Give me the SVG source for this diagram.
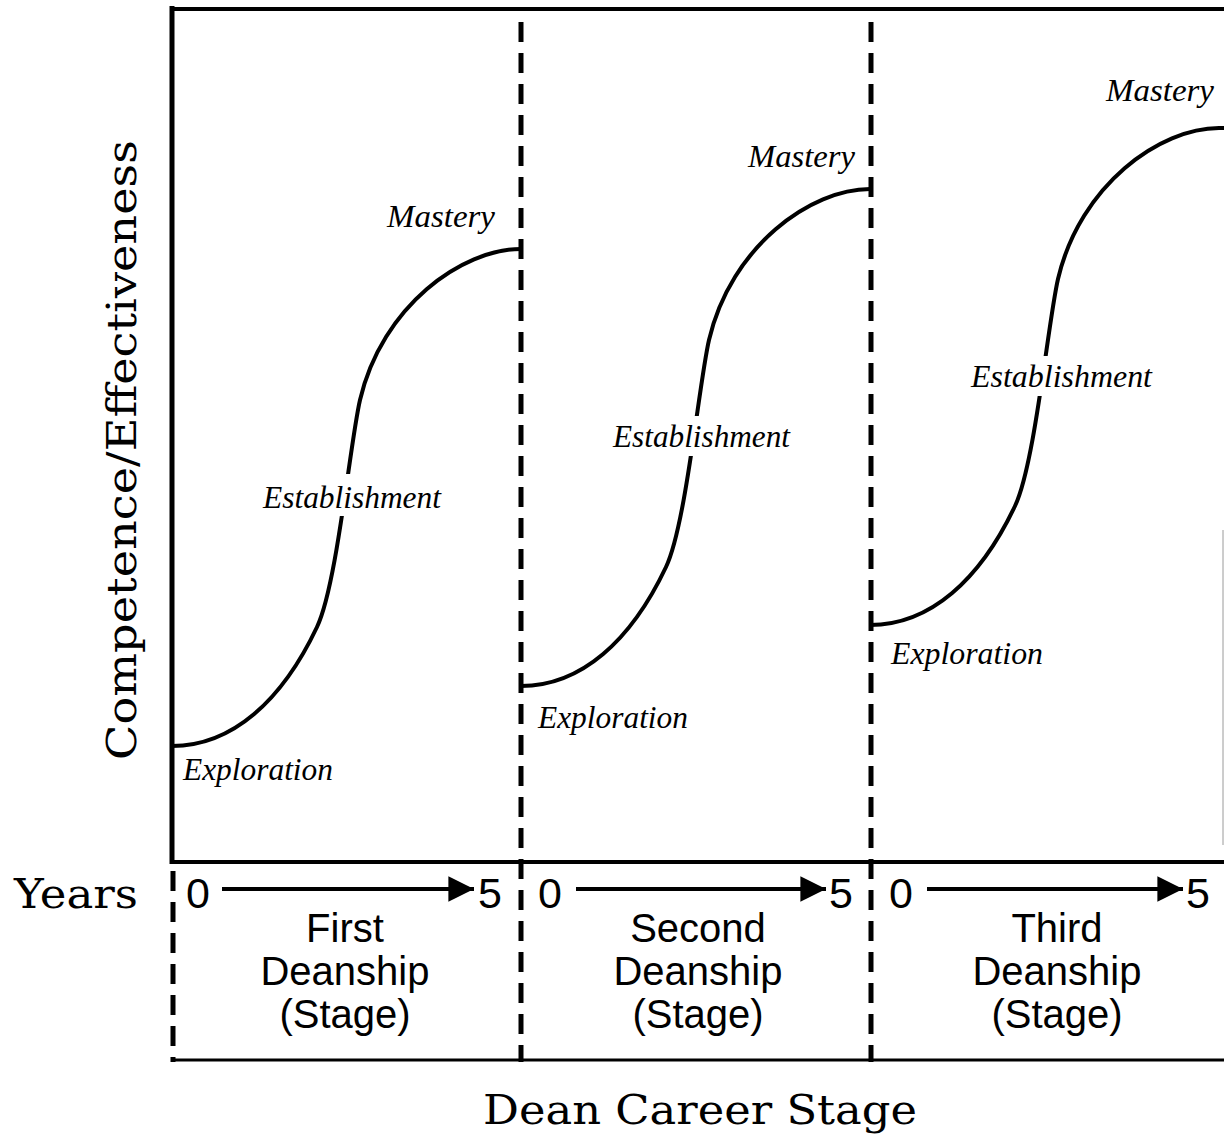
<svg xmlns="http://www.w3.org/2000/svg" width="1224" height="1141" viewBox="0 0 1224 1141">
  <style>
    .frame { stroke: #000; fill: none; }
    .dash { stroke: #000; stroke-width: 5; stroke-dasharray: 20 11; fill: none; }
    .curve { stroke: #000; stroke-width: 4; fill: none; stroke-linecap: butt; }
    .arrow { stroke: #000; stroke-width: 4; }
    .serif { font-family: "DejaVu Serif", "Liberation Serif", serif; font-size: 41px; fill: #000; }
    .phase { font-family: "Liberation Serif", "DejaVu Serif", serif; font-style: italic; font-size: 31px; fill: #000; }
    .num { font-family: "Liberation Sans", Arial, sans-serif; font-size: 43px; fill: #000; }
    .stage { font-family: "Liberation Sans", Arial, sans-serif; font-size: 40px; fill: #000; text-anchor: middle; }
    .mask { fill: #fff; stroke: none; }
  </style>
  <defs>
    <!-- one S-shaped learning curve, drawn from its start point -->
    <path id="scurve" d="M0,0 C60,0 110,-45 145,-119 C165,-161 178,-303 188,-346 C210,-440 290,-497 349,-497"/>
    <marker id="head" viewBox="0 0 10 10" refX="10" refY="5" markerWidth="7" markerHeight="6.4" markerUnits="strokeWidth" orient="auto">
      <path d="M0,0 L10,5 L0,10 Z" fill="#000"/>
    </marker>
  </defs>

  <!-- chart frame -->
  <g id="frame">
    <line class="frame" x1="172" y1="6" x2="172" y2="864" stroke-width="5"/>
    <line class="frame" x1="170" y1="9" x2="1224" y2="9" stroke-width="4"/>
    <line class="frame" x1="170" y1="862" x2="1224" y2="862" stroke-width="4"/>
    <line class="frame" x1="172" y1="1060" x2="1224" y2="1060" stroke-width="3"/>
    <line x1="1223" y1="530" x2="1223" y2="845" stroke="#9a9a9a" stroke-width="1"/>
  </g>

  <!-- stage dividers -->
  <g id="dividers">
    <line class="dash" x1="173" y1="871" x2="173" y2="1062"/>
    <line class="dash" x1="521" y1="22" x2="521" y2="1062"/>
    <line class="dash" x1="871" y1="22" x2="871" y2="1062"/>
  </g>

  <!-- learning curves -->
  <g id="connectors">
    <use href="#scurve" class="curve" transform="translate(172,746)"/>
    <use href="#scurve" class="curve" transform="translate(521,686)"/>
    <use href="#scurve" class="curve" transform="translate(870,625)"/>
    <line class="curve" x1="1219" y1="128" x2="1226" y2="128"/>
    <!-- year arrows -->
    <line class="arrow" x1="222" y1="889" x2="474" y2="889" marker-end="url(#head)"/>
    <line class="arrow" x1="576" y1="889" x2="826" y2="889" marker-end="url(#head)"/>
    <line class="arrow" x1="927" y1="889" x2="1183" y2="889" marker-end="url(#head)"/>
  </g>

  <!-- first deanship -->
  <g id="stage1">
    <rect class="mask" x="262" y="474" width="181" height="42"/>
    <text class="phase" x="387" y="227" textLength="108" lengthAdjust="spacingAndGlyphs">Mastery</text>
    <text class="phase" x="263" y="508" textLength="178" lengthAdjust="spacingAndGlyphs">Establishment</text>
    <text class="phase" x="183" y="780" textLength="150" lengthAdjust="spacingAndGlyphs">Exploration</text>
    <text class="num" x="186" y="908">0</text>
    <text class="num" x="478" y="908">5</text>
    <text class="stage" x="345" y="942">First</text>
    <text class="stage" x="345" y="985">Deanship</text>
    <text class="stage" x="345" y="1028">(Stage)</text>
  </g>

  <!-- second deanship -->
  <g id="stage2">
    <rect class="mask" x="612" y="416" width="180" height="40"/>
    <text class="phase" x="748" y="167" textLength="107" lengthAdjust="spacingAndGlyphs">Mastery</text>
    <text class="phase" x="613" y="447" textLength="177" lengthAdjust="spacingAndGlyphs">Establishment</text>
    <text class="phase" x="538" y="728" textLength="150" lengthAdjust="spacingAndGlyphs">Exploration</text>
    <text class="num" x="538" y="908">0</text>
    <text class="num" x="829" y="908">5</text>
    <text class="stage" x="698" y="942">Second</text>
    <text class="stage" x="698" y="985">Deanship</text>
    <text class="stage" x="698" y="1028">(Stage)</text>
  </g>

  <!-- third deanship -->
  <g id="stage3">
    <rect class="mask" x="970" y="356" width="184" height="40"/>
    <text class="phase" x="1106" y="101" textLength="108" lengthAdjust="spacingAndGlyphs">Mastery</text>
    <text class="phase" x="971" y="387" textLength="181" lengthAdjust="spacingAndGlyphs">Establishment</text>
    <text class="phase" x="891" y="664" textLength="152" lengthAdjust="spacingAndGlyphs">Exploration</text>
    <text class="num" x="889" y="908">0</text>
    <text class="num" x="1186" y="908">5</text>
    <text class="stage" x="1057" y="942">Third</text>
    <text class="stage" x="1057" y="985">Deanship</text>
    <text class="stage" x="1057" y="1028">(Stage)</text>
  </g>

  <!-- axis titles -->
  <g id="axes">
    <text class="serif" x="0" y="0" transform="translate(136,760) rotate(-90)" textLength="620" lengthAdjust="spacingAndGlyphs">Competence/Effectiveness</text>
    <text class="serif" x="14" y="908" textLength="124" lengthAdjust="spacingAndGlyphs">Years</text>
    <text class="serif" x="483" y="1124" textLength="434" lengthAdjust="spacingAndGlyphs">Dean Career Stage</text>
  </g>
</svg>
